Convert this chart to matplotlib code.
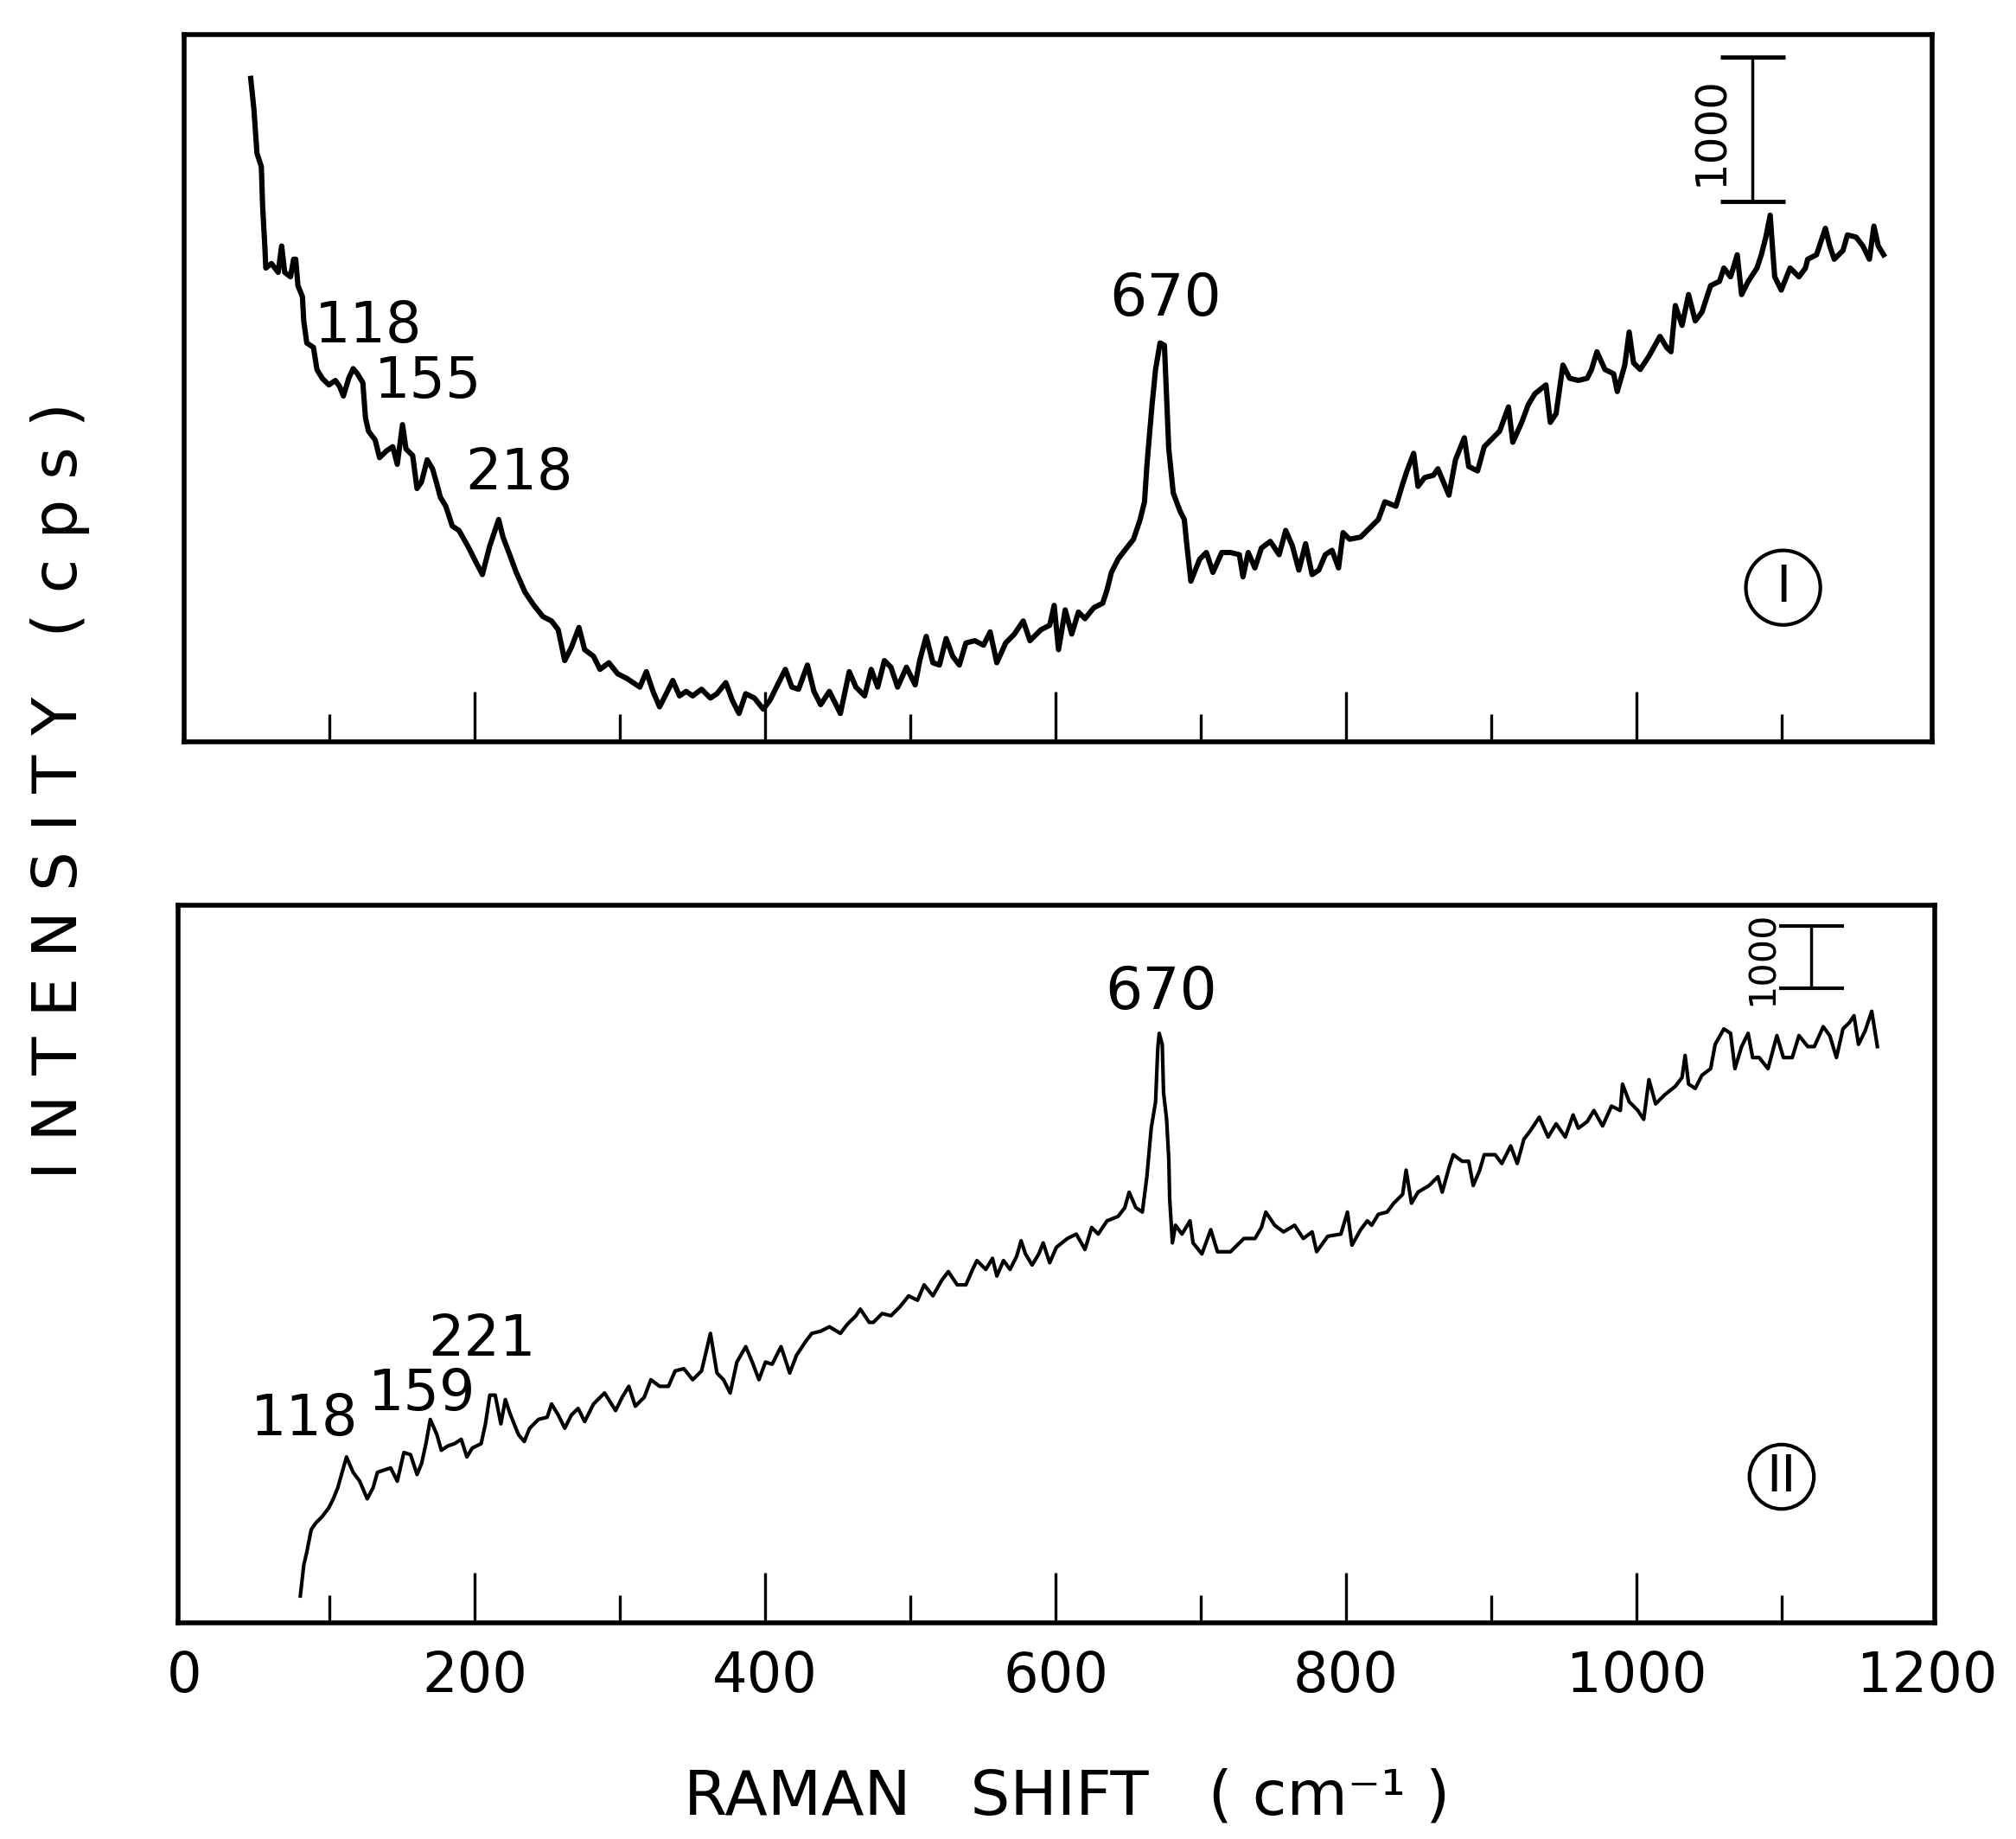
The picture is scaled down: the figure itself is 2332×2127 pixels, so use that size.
import matplotlib
matplotlib.use('Agg')
import matplotlib.pyplot as plt

# spectrum I (upper panel): Raman shift (cm-1) and intensity (cps, arbitrary baseline)
top_shift = [45.9, 48.1, 50.2, 53.2, 54.1, 55.6, 56.3, 60.2, 64.8, 67.2, 69.3, 73.3, 75.4, 76.9,
             78.4, 81.5, 82.4, 84.5, 89.1, 91.5, 95.1, 99.7, 104.2, 107.3, 109.7, 113.4, 116.4,
             119.4, 123.1, 124.9, 127.0, 131.6, 134.6, 139.2, 143.7, 146.8, 150.4, 152.8, 157.4,
             160.4, 163.5, 167.4, 171.1, 174.1, 176.5, 180.2, 184.7, 189.3, 195.3, 199.9, 205.4,
             210.5, 216.6, 219.6, 224.2, 228.7, 234.8, 240.9, 247.0, 253.0, 257.6, 262.1, 266.7,
             271.9, 275.8, 281.9, 286.4, 292.5, 298.6, 304.7, 309.2, 313.8, 318.3, 322.9, 327.4,
             332.0, 336.5, 341.1, 345.7, 350.2, 356.3, 362.4, 366.9, 373.0, 377.5, 382.1, 386.7,
             392.7, 398.8, 403.4, 407.9, 414.0, 418.5, 423.1, 429.2, 433.7, 438.3, 444.3, 451.9,
             458.0, 462.6, 468.6, 473.1, 477.6, 482.2, 486.7, 491.3, 497.4, 503.4, 506.5, 511.0,
             515.6, 520.1, 524.7, 529.2, 533.8, 538.3, 544.4, 550.5, 555.0, 559.6, 565.7, 571.7,
             577.8, 582.4, 590.0, 596.0, 599.1, 602.1, 606.7, 611.2, 615.8, 620.3, 626.4, 632.5,
             635.5, 638.5, 643.1, 647.7, 653.7, 658.3, 661.3, 662.9, 664.4, 666.5, 668.9, 672.0,
             675.0, 676.5, 678.0, 681.1, 685.6, 688.7, 690.2, 693.2, 699.3, 703.9, 708.4, 714.5,
             720.5, 726.6, 729.1, 732.7, 737.3, 741.8, 747.9, 754.0, 758.5, 763.1, 767.6, 772.2,
             776.7, 781.3, 785.8, 790.4, 794.9, 798.0, 802.5, 810.1, 816.2, 822.3, 826.8, 834.4,
             839.0, 842.0, 846.6, 849.6, 854.2, 860.2, 863.3, 870.9, 875.4, 881.5, 884.5, 890.6,
             895.2, 899.7, 905.8, 911.9, 914.9, 921.0, 925.5, 930.1, 937.7, 940.7, 944.7, 949.4,
             954.0, 960.0, 966.1, 969.1, 972.8, 978.3, 984.3, 986.8, 992.0, 995.0, 998.0, 1002.6,
             1008.6, 1016.2, 1020.8, 1023.8, 1026.8, 1031.4, 1035.9, 1040.5, 1045.1, 1051.1,
             1057.2, 1060.2, 1064.8, 1069.4, 1072.4, 1077.0, 1083.0, 1086.0, 1089.1, 1092.1,
             1093.6, 1095.2, 1099.7, 1105.8, 1111.9, 1116.4, 1117.9, 1124.0, 1130.1, 1133.1,
             1136.2, 1142.2, 1145.3, 1151.3, 1155.9, 1160.4, 1163.5, 1166.5, 1170.2]
top_counts = [4604, 4390, 4084, 3992, 3717, 3441, 3288, 3319, 3258, 3441, 3258, 3227, 3349, 3349,
              3166, 3089, 2921, 2768, 2737, 2584, 2523, 2477, 2508, 2462, 2400, 2523, 2590,
              2554, 2492, 2248, 2156, 2094, 1972, 2018, 2048, 1926, 2201, 2033, 1987,
              1758, 1804, 1957, 1895, 1788, 1697, 1635, 1497, 1467, 1360, 1268, 1161,
              1360, 1543, 1421, 1299, 1176, 1038, 947, 870, 839, 778, 564, 656,
              794, 640, 594, 503, 549, 472, 441, 411, 380, 487, 350, 243,
              334, 426, 319, 350, 319, 365, 304, 334, 411, 288, 197, 334,
              304, 227, 288, 380, 503, 380, 365, 533, 350, 258, 350, 197,
              487, 380, 319, 503, 380, 564, 518, 380, 518, 395, 564, 732,
              549, 533, 717, 594, 533, 686, 702, 671, 763, 549, 686, 748,
              839, 702, 778, 809, 947, 640, 916, 748, 901, 855, 931, 962,
              1054, 1176, 1268, 1329, 1406, 1543, 1666, 1911, 2094, 2339, 2584, 2768,
              2752, 2400, 2033, 1727, 1605, 1543, 1390, 1115, 1268, 1314, 1176, 1314,
              1314, 1299, 1145, 1314, 1207, 1345, 1391, 1299, 1467, 1360, 1192, 1375,
              1161, 1192, 1299, 1329, 1207, 1452, 1406, 1421, 1482, 1543, 1666, 1635,
              1788, 1880, 2002, 1773, 1834, 1850, 1895, 1712, 1957, 2110, 1911, 1880,
              2048, 2094, 2156, 2324, 2079, 2217, 2339, 2416, 2477, 2217, 2278, 2615,
              2523, 2508, 2523, 2584, 2707, 2584, 2554, 2431, 2615, 2844, 2630, 2584,
              2676, 2814, 2737, 2707, 3028, 2890, 3104, 2921, 2982, 3166,
              3196, 3288, 3227, 3380, 3104, 3196, 3288, 3380, 3502, 3655,
              3441, 3227, 3135, 3288, 3227, 3288, 3349, 3380, 3564, 3441,
              3349, 3410, 3518, 3502, 3441, 3349, 3579, 3441, 3380]

# spectrum II (lower panel)
bottom_shift = [80.0, 82.4, 84.5, 87.5, 90.6, 95.1, 99.7, 102.7, 105.8, 108.8, 111.8, 116.4,
                120.9, 126.1, 130.1, 133.1, 137.6, 142.2, 146.8, 151.3, 155.9, 160.4, 163.5,
                166.5, 169.5, 174.1, 177.1, 181.7, 186.2, 190.8, 194.7, 198.4, 204.5, 207.5,
                210.5, 214.2, 218.1, 221.2, 224.2, 227.2, 230.3, 234.2, 237.9, 244.0, 250.0,
                253.0, 257.6, 262.1, 266.7, 271.3, 275.8, 281.9, 289.5, 297.1, 301.6, 306.2,
                310.7, 316.8, 321.4, 327.4, 333.5, 338.1, 344.1, 350.2, 356.3, 362.4, 366.9,
                371.4, 376.0, 380.6, 386.7, 391.2, 395.8, 400.3, 404.9, 411.0, 417.0, 421.6,
                427.6, 432.2, 438.3, 444.3, 451.9, 456.5, 462.6, 465.6, 471.7, 474.6, 480.6,
                486.7, 492.8, 498.9, 505.0, 509.5, 515.6, 521.6, 526.2, 532.3, 538.3, 542.9,
                545.9, 552.0, 556.6, 559.6, 564.2, 568.7, 573.3, 576.3, 579.3, 583.9, 588.5,
                591.5, 596.0, 600.6, 608.2, 614.3, 620.3, 624.9, 629.4, 635.5, 643.1, 647.7,
                650.7, 655.3, 659.8, 662.9, 665.9, 668.9, 670.4, 671.4, 673.5, 674.4, 676.5,
                678.0, 678.6, 680.5, 682.6, 687.1, 692.6, 694.7, 700.8, 706.9, 711.5, 720.5,
                729.7, 737.3, 741.8, 744.8, 750.9, 757.0, 764.6, 770.6, 776.7, 779.8, 787.4,
                796.5, 801.0, 804.1, 810.1, 814.7, 817.7, 822.3, 828.3, 832.9, 839.0, 841.4,
                845.1, 849.6, 857.2, 863.3, 866.3, 870.9, 873.9, 880.0, 884.5, 887.6, 892.1,
                895.2, 902.7, 907.3, 913.4, 917.9, 922.5, 927.1, 933.1, 939.2, 944.7, 951.0,
                956.4, 960.0, 966.1, 970.7, 976.7, 982.8, 988.9, 990.4, 995.0, 1001.0, 1005.0,
                1008.6, 1013.2, 1019.2, 1026.8, 1031.4, 1033.5, 1035.9, 1040.5, 1045.1, 1051.1,
                1054.2, 1060.2, 1064.8, 1067.8, 1072.4, 1076.9, 1080.0, 1084.5, 1090.6, 1096.7,
                1101.2, 1107.3, 1111.9, 1118.0, 1122.5, 1128.6, 1133.1, 1137.7, 1142.2, 1146.8,
                1149.8, 1152.9, 1157.4, 1162.0, 1165.9]
bottom_counts = [434, 931, 1143, 1498, 1604, 1711, 1853, 1995, 2172, 2420, 2668, 2420,
                 2278, 1995, 2172, 2420, 2456, 2491, 2278, 2739, 2704, 2385, 2562,
                 2881, 3271, 3023, 2775, 2846, 2881, 2952, 2668, 2810, 2881, 3200,
                 3661, 3661, 3200, 3590, 3378, 3200, 3023, 2916, 3129, 3271, 3306,
                 3519, 3342, 3129, 3342, 3448, 3236, 3519, 3696, 3413, 3626, 3803,
                 3484, 3626, 3909, 3803, 3803, 4051, 4087, 3909, 4051, 4654, 4016,
                 3909, 3696, 4193, 4441, 4193, 3909, 4193, 4158, 4441, 4016, 4299,
                 4512, 4654, 4689, 4760, 4654, 4796, 4938, 5044, 4831, 4831, 4973,
                 4938, 5080, 5257, 5186, 5434, 5257, 5505, 5647, 5434, 5434, 5682,
                 5824, 5682, 5860, 5576, 5824, 5682, 5895, 6143, 5931, 5753, 5931,
                 6108, 5789, 6037, 6179, 6250, 6002, 6356, 6250, 6463, 6534, 6675,
                 6924, 6675, 6604, 7172, 7952, 8377, 9228, 9477, 9299, 8519, 8093,
                 7455, 6817, 6108, 6392, 6250, 6463, 6108, 5931, 6321, 5966, 5966,
                 6179, 6179, 6356, 6604, 6392, 6285, 6392, 6179, 6285, 5966, 6214,
                 6250, 6604, 6072, 6321, 6463, 6392, 6569, 6604, 6746, 6888, 7278,
                 6746, 6924, 7030, 7172, 6924, 7314, 7526, 7420, 7420, 7030, 7278,
                 7526, 7526, 7384, 7668, 7384, 7775, 7916, 8129, 7810, 8023, 7810,
                 8165, 7952, 8058, 8236, 7988, 8307, 8236, 8661, 8377, 8236, 8094,
                 8732, 8342, 8484, 8626, 8767, 9122, 8661, 8590, 8803, 8909,
                 9299, 9548, 9477, 8909, 9264, 9477, 9087, 9087, 8909, 9441,
                 9087, 9087, 9441, 9264, 9264, 9583, 9441, 9087, 9548, 9654,
                 9760, 9299, 9512, 9831, 9264]

tick_values = [0, 200, 400, 600, 800, 1000, 1200]
minor_values = [100, 300, 500, 700, 900, 1100]
top_peak_labels = ['118', '155', '218', '670']
bottom_peak_labels = ['118', '159', '221', '670']
scale_label = '1000'

plt.rcParams['font.family'] = 'DejaVu Sans'

fig = plt.figure(figsize=(23.32, 21.27), dpi=100)
ax1 = fig.add_axes([0.0913, 0.5966, 0.8671, 0.3846])
ax2 = fig.add_axes([0.0883, 0.1175, 0.8714, 0.3903])

ax1.plot(top_shift, top_counts, color='black', lw=4.4)
ax2.plot(bottom_shift, bottom_counts, color='black', lw=3.0)

ax1.set_xlim(0, 1203.6)
ax1.set_ylim(0, 4908)
ax2.set_xlim(-4.2, 1205.4)
ax2.set_ylim(0, 11537)

for ax in (ax1, ax2):
    ax.set_xticks(tick_values)
    ax.set_xticks(minor_values, minor=True)
    ax.tick_params(axis='x', which='major', direction='in', length=42, width=2.4,
                   labelsize=46, pad=22)
    ax.tick_params(axis='x', which='minor', direction='in', length=23, width=2.4)
    ax.set_yticks([])
    for s in ax.spines.values():
        s.set_linewidth(4)
    # no tick marks at the two ends, only labels
    majors = ax.xaxis.get_major_ticks()
    for t in (majors[0], majors[-1]):
        t.tick1line.set_visible(False)
ax1.tick_params(axis='x', labelbottom=False)

# peak labels
for txt, (x, y) in zip(top_peak_labels, [(127, 2880), (168, 2496), (231, 1860), (676, 3072)]):
    ax1.text(x, y, txt, fontsize=49 if txt == '670' else 47, ha='center', va='center')
for txt, (x, y) in zip(bottom_peak_labels, [(83, 3267), (164, 3670), (205, 4545), (673, 10133)]):
    ax2.text(x, y, txt, fontsize=49 if txt == '670' else 47, ha='center', va='center')

# 1000 cps scale bars
ax1.errorbar([1080], [4250], yerr=[500], color='black', lw=2.5, capsize=27, capthick=3.5)
ax1.text(1051, 4236, scale_label, rotation=90, fontsize=36, ha='center', va='center')
ax2.errorbar([1120], [10703], yerr=[500], color='black', lw=2.5, capsize=27, capthick=3)
ax2.text(1087, 10689, scale_label, rotation=90, fontsize=31, ha='center', va='center')

# circled sample numbers
ax1.text(1101, 1070, 'I', fontsize=42, ha='center', va='center',
         bbox=dict(boxstyle='circle,pad=0.25', fc='none', ec='black', lw=3))
ax2.text(1100, 2349, 'II', fontsize=42, ha='center', va='center',
         bbox=dict(boxstyle='circle,pad=0.15', fc='none', ec='black', lw=3))

fig.text(0.030, 0.570, 'I N T E N S I T Y   ( c p s )', rotation=90, fontsize=52,
         ha='center', va='center')
fig.text(0.529, 0.0135, 'RAMAN   SHIFT   ( cm\u207b\u00b9 )', fontsize=52,
         ha='center', va='baseline')

plt.savefig('out.png', dpi=100)
